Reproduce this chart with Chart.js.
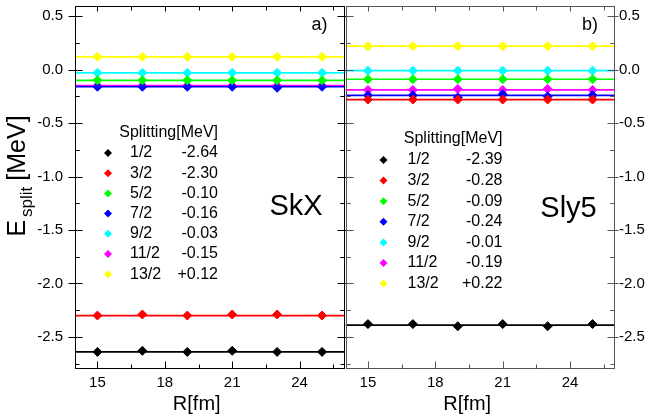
<!DOCTYPE html>
<html>
<head>
<meta charset="utf-8">
<script src="https://cdn.jsdelivr.net/npm/chart.js@4.4.0/dist/chart.umd.min.js"></script>
<style>
  html, body { margin: 0; padding: 0; background: #fff; }
  body { width: 647px; height: 419px; overflow: hidden; position: relative; }
  canvas { position: absolute; top: 0; }
  #skxChart { left: 0; }
  #sly5Chart { left: 340px; }
</style>
</head>
<body>
<canvas id="skxChart" width="350" height="419"></canvas>
<canvas id="sly5Chart" width="340" height="419"></canvas>
<script>
// R values of the computed points and the span of the fit lines
const rValues = [15, 17, 19, 21, 23, 25];
const fitRange = [14, 26];

// Tick labels
const xTicks = [15, 18, 21, 24];
const yTicks = [0.5, 0.0, -0.5, -1.0, -1.5, -2.0, -2.5];

// j states
const states = ['1/2', '3/2', '5/2', '7/2', '9/2', '11/2', '13/2'];

// SkX: splitting (fit) and points
const skxSplitting = [-2.64, -2.30, -0.10, -0.16, -0.03, -0.15, 0.12];
const skxPoints = [
    [-2.64, -2.63, -2.64, -2.63, -2.64, -2.64],
    [-2.30, -2.29, -2.30, -2.29, -2.29, -2.30],
    [-0.10, -0.10, -0.10, -0.10, -0.10, -0.10],
    [-0.16, -0.16, -0.16, -0.16, -0.17, -0.16],
    [-0.03, -0.03, -0.03, -0.03, -0.03, -0.03],
    [-0.15, -0.15, -0.15, -0.15, -0.15, -0.15],
    [0.12, 0.12, 0.12, 0.12, 0.12, 0.12]
];

// Sly5: splitting (fit) and points
const sly5Splitting = [-2.39, -0.28, -0.09, -0.24, -0.01, -0.19, 0.22];
const sly5Points = [
    [-2.38, -2.38, -2.40, -2.38, -2.40, -2.38],
    [-0.28, -0.28, -0.28, -0.28, -0.28, -0.28],
    [-0.09, -0.09, -0.09, -0.09, -0.09, -0.09],
    [-0.24, -0.24, -0.26, -0.23, -0.25, -0.24],
    [-0.01, -0.01, -0.01, -0.01, -0.01, -0.01],
    [-0.19, -0.19, -0.18, -0.19, -0.18, -0.19],
    [0.22, 0.22, 0.22, 0.22, 0.22, 0.22]
];

const COLORS = ['#000000', '#ff0000', '#00ff00', '#0000ff', '#00ffff', '#ff00ff', '#ffff00'];
const FONT = '"Liberation Sans", Arial, sans-serif';

// Формат значения в легенде
function formatSplit(v) {
    return (v > 0 ? '+' : '') + v.toFixed(2);
}

// Построение наборов данных
function buildDatasets(fits, points) {
    const sets = [];
    states.forEach((s, i) => {
        sets.push({
            label: s + ' fit',
            data: fitRange.map(r => ({ x: r, y: fits[i] })),
            showLine: true,
            borderColor: COLORS[i],
            borderWidth: 1.7,
            pointRadius: 0
        });
        sets.push({
            label: s,
            data: rValues.map((r, k) => ({ x: r, y: points[i][k] })),
            showLine: false,
            pointStyle: 'rectRot',
            pointRadius: 4.5,
            backgroundColor: COLORS[i],
            borderColor: COLORS[i],
            borderWidth: 1
        });
    });
    return sets;
}

// Рамка, засечки, легенда и подписи
const decorPlugin = {
    id: 'decor',
    afterDatasetsDraw(chart, args, o) {
        const { ctx, chartArea: a, scales: { x, y } } = chart;
        ctx.save();

        // frame
        ctx.strokeStyle = o.frameColor;
        ctx.lineWidth = 1;
        const L = Math.round(a.left) + 0.5, R = Math.round(a.right) - 0.5;
        const T = Math.round(a.top) + 0.5, B = Math.round(a.bottom) - 0.5;
        ctx.strokeRect(L, T, R - L, B - T);

        // ticks
        ctx.beginPath();
        xTicks.forEach(v => {
            const px = Math.round(x.getPixelForValue(v)) + 0.5;
            ctx.moveTo(px, B); ctx.lineTo(px, B - 7);
            ctx.moveTo(px, T); ctx.lineTo(px, T + 5);
            const m = v + 1.5;
            if (m < x.max) {
                const pm = Math.round(x.getPixelForValue(m)) + 0.5;
                ctx.moveTo(pm, B); ctx.lineTo(pm, B - 4);
                ctx.moveTo(pm, T); ctx.lineTo(pm, T + 4);
            }
        });
        yTicks.forEach(v => {
            const py = Math.round(y.getPixelForValue(v)) + 0.5;
            ctx.moveTo(L - o.outLeft, py); ctx.lineTo(L + 7, py);
            ctx.moveTo(R - 7, py); ctx.lineTo(R + o.outRight, py);
            [v + 0.25, v - 0.25].forEach(m => {
                if (m < y.max && m > y.min && (m * 4) % 2 !== 0) {
                    const pm = Math.round(y.getPixelForValue(m)) + 0.5;
                    ctx.moveTo(L, pm); ctx.lineTo(L + 4, pm);
                    ctx.moveTo(R - 4, pm); ctx.lineTo(R, pm);
                }
            });
        });
        ctx.stroke();

        ctx.fillStyle = '#000';

        // legend
        const lg = o.legend;
        ctx.font = '16px ' + FONT;
        ctx.textBaseline = 'middle';
        ctx.textAlign = 'right';
        ctx.fillText('Splitting[MeV]', a.left + lg.valueRight, lg.titleY);
        states.forEach((s, i) => {
            const ry = lg.rowY + i * lg.rowGap;
            const mx = a.left + lg.marker;
            ctx.fillStyle = COLORS[i];
            ctx.beginPath();
            ctx.moveTo(mx, ry - 4); ctx.lineTo(mx + 4, ry);
            ctx.lineTo(mx, ry + 4); ctx.lineTo(mx - 4, ry);
            ctx.closePath(); ctx.fill();
            ctx.fillStyle = '#000';
            ctx.textAlign = 'left';
            ctx.fillText(s, a.left + lg.label, ry);
            ctx.textAlign = 'right';
            ctx.fillText(formatSplit(o.values[i]), a.left + lg.valueRight, ry);
        });

        // panel name and letter
        ctx.textBaseline = 'alphabetic';
        ctx.textAlign = 'center';
        ctx.font = '29px ' + FONT;
        ctx.fillText(o.name, a.left + o.nameX, o.nameY);
        ctx.textAlign = 'right';
        ctx.font = '18px ' + FONT;
        ctx.fillText(o.letter, a.right - 17, 30);

        // x title
        ctx.textAlign = 'center';
        ctx.font = '20px ' + FONT;
        ctx.fillText('R[fm]', (a.left + a.right) / 2 - 13, 410);

        // y title with subscript
        if (o.yTitle) {
            ctx.translate(25, 176);
            ctx.rotate(-Math.PI / 2);
            const big = '25px ' + FONT, small = '17px ' + FONT;
            ctx.font = big;
            const wE = ctx.measureText('E').width;
            const wM = ctx.measureText('[MeV]').width;
            ctx.font = small;
            const wS = ctx.measureText('split').width;
            const gap1 = 3, gap2 = 6;
            const start = -(wE + gap1 + wS + gap2 + wM) / 2;
            ctx.textAlign = 'left';
            ctx.font = big;
            ctx.fillText('E', start, 0);
            ctx.font = small;
            ctx.fillText('split', start + wE + gap1, 7);
            ctx.font = big;
            ctx.fillText('[MeV]', start + wE + gap1 + wS + gap2, 0);
        }
        ctx.restore();
    }
};

function makeChart(id, fits, points, side, decor, padding, yWidth) {
    return new Chart(document.getElementById(id), {
        type: 'scatter',
        data: { datasets: buildDatasets(fits, points) },
        options: {
            responsive: false,
            animation: false,
            events: [],
            layout: { padding: padding },
            plugins: {
                legend: { display: false },
                tooltip: { enabled: false },
                decor: decor
            },
            scales: {
                x: {
                    type: 'linear',
                    min: fitRange[0],
                    max: fitRange[1],
                    grid: { display: false, drawTicks: false },
                    border: { display: false },
                    afterBuildTicks: s => { s.ticks = xTicks.map(v => ({ value: v })); },
                    afterFit: s => {
                        s.height = 50;
                        s.paddingLeft = 0; s.paddingRight = 0;
                    },
                    ticks: {
                        padding: 5,
                        color: '#000',
                        font: { family: FONT, size: 15 },
                        callback: v => String(v)
                    }
                },
                y: {
                    position: side,
                    min: -2.8,
                    max: 0.6,
                    grid: { display: false, drawTicks: false },
                    border: { display: false },
                    afterBuildTicks: s => { s.ticks = yTicks.map(v => ({ value: v })); },
                    afterFit: s => {
                        s.width = yWidth;
                        s.paddingTop = 0; s.paddingBottom = 0;
                    },
                    ticks: {
                        padding: side === 'left' ? 12 : 4,
                        color: '#000',
                        font: { family: FONT, size: 15 },
                        callback: v => v.toFixed(1)
                    }
                }
            }
        },
        plugins: [decorPlugin]
    });
}

makeChart('skxChart', skxSplitting, skxPoints, 'left', {
    frameColor: '#000',
    outLeft: 7, outRight: 6,
    values: skxSplitting,
    name: 'SkX', nameX: 221, nameY: 215,
    letter: 'a)',
    yTitle: true,
    legend: { titleY: 133, rowY: 153, rowGap: 20.2, marker: 33, label: 55, valueRight: 143 }
}, { top: 5, right: 5, left: 0, bottom: 0 }, 75);

makeChart('sly5Chart', sly5Splitting, sly5Points, 'right', {
    frameColor: '#555',
    outLeft: 0, outRight: 4,
    values: sly5Splitting,
    name: 'Sly5', nameX: 223, nameY: 217,
    letter: 'b)',
    yTitle: false,
    legend: { titleY: 139, rowY: 160, rowGap: 20.6, marker: 38, label: 62, valueRight: 157 }
}, { top: 5, right: 0, left: 5, bottom: 0 }, 65);
</script>
</body>
</html>
